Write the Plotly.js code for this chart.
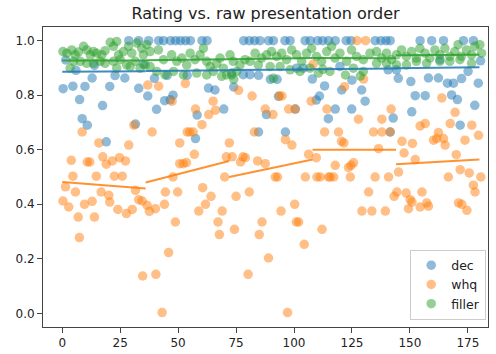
<!DOCTYPE html>
<html>
<head>
<meta charset="utf-8">
<script src="https://cdn.plot.ly/plotly-3.0.1.min.js"></script>
<style>
  html, body { margin: 0; padding: 0; background: #fff; }
  #chart { width: 496px; height: 354px; }
</style>
</head>
<body>
<div id="chart"></div>
<script>
// Ratings by raw presentation order, one series per sentence type
const decX = [0.4,1.5,4.6,5.9,7.5,8.6,9.8,10.8,12.9,13.9,17.4,19.0,20.5,22.8,27.0,28.7,31.6,33.0,33.0,35.0,
  36.9,37.3,39.8,40.7,41.6,43.7,44.2,45.3,46.6,46.7,47.8,48.9,51.0,53.2,53.9,55.3,57.5,58.2,60.3,62.5,63.1,65.9,69.7,
  73.1,74.0,78.1,78.3,80.7,81.0,83.0,84.7,84.7,85.3,88.1,89.0,89.8,91.1,92.7,93.3,96.1,96.3,98.3,100.5,101.1,104.0,104.8,107.0,107.9,
  109.6,110.2,111.0,112.4,113.2,114.8,114.9,117.8,117.8,119.8,120.6,122.5,124.6,124.9,125.0,129.2,130.7,135.0,137.5,139.7,140.6,141.5,141.5,142.8,
  144.2,145.0,150.4,150.8,152.3,154.4,156.6,158.0,159.4,162.3,163.0,164.5,166.2,168.0,168.8,170.5,171.7,172.3,173.1,175.1,177.4,178.0,179.5,180.5];
const decY = [0.824,0.929,0.833,0.891,0.784,0.714,0.832,0.690,0.863,0.909,0.762,0.629,0.832,0.872,0.863,1.0,0.694,0.825,1.0,0.914,
  0.797,1.0,0.862,0.748,1.0,1.0,0.780,0.873,0.783,1.0,0.800,1.0,1.0,1.0,0.873,1.0,0.641,0.727,1.0,1.0,0.826,0.819,0.749,
  0.881,0.830,0.875,1.0,1.0,0.875,1.0,0.873,0.665,1.0,0.729,1.0,0.858,1.0,0.858,0.796,1.0,0.665,1.0,0.749,0.899,0.899,1.0,1.0,0.859,
  0.782,1.0,0.797,1.0,0.834,0.714,1.0,1.0,0.749,0.905,0.819,1.0,1.0,0.749,0.855,0.819,0.778,1.0,1.0,1.0,0.893,1.0,0.665,0.716,
  0.893,0.862,0.850,0.739,0.798,1.0,0.798,0.863,1.0,0.863,0.930,1.0,0.844,0.801,0.844,0.784,0.690,0.861,1.0,0.887,1.0,0.763,0.844,0.926];

const whqX = [0.3,1.4,2.8,3.9,4.6,5.7,6.9,7.4,8.6,9.6,10.8,11.9,12.9,13.9,14.7,15.8,16.8,17.5,19.0,20.1,20.5,21.6,22.5,24.0,24.7,25.9,27.3,27.7,28.7,30.2,30.9,31.6,33.0,34.5,34.7,
  36.6,36.9,37.6,38.8,40.2,40.4,41.6,43.1,44.1,44.5,45.9,47.4,47.8,48.8,49.8,50.7,50.7,52.2,53.1,53.6,53.9,55.0,56.5,57.0,57.5,58.9,60.3,60.6,61.8,63.2,64.2,65.1,66.1,67.2,67.8,69.0,70.1,70.8,
  72.1,73.3,74.3,75.0,76.1,76.9,78.0,79.0,80.2,80.7,81.9,82.9,84.3,85.0,86.2,87.6,87.6,89.0,90.9,91.9,92.9,93.7,94.4,94.8,96.3,97.2,97.7,99.1,100.3,100.6,101.0,102.0,104.4,104.9,106.3,107.4,
  108.2,109.6,109.9,111.3,112.1,113.2,114.2,114.9,115.6,117.1,117.8,119.2,120.5,121.5,121.8,123.5,124.3,124.6,125.7,127.2,127.8,129.3,130.0,130.9,132.2,133.6,134.3,135.0,136.5,137.9,137.9,139.4,140.8,141.5,141.9,143.2,
  144.4,145.1,146.6,147.5,148.4,149.4,150.1,150.9,151.1,152.3,154.4,154.4,155.2,156.6,157.3,158.0,160.2,161.6,162.3,163.8,164.5,165.2,166.6,167.4,169.5,170.0,171.0,171.7,172.4,173.8,174.6,175.6,176.7,177.4,178.1,179.6,180.6];
const whqY = [0.412,0.464,0.390,0.561,0.503,0.445,0.353,0.278,0.665,0.400,0.555,0.555,0.411,0.353,0.503,0.625,0.445,0.574,0.547,0.433,0.408,0.559,0.503,0.381,0.571,0.503,0.559,0.366,0.617,0.381,0.690,0.451,0.417,0.412,0.137,
  0.396,0.837,0.374,0.665,0.384,0.143,0.833,0.003,0.400,0.445,0.223,0.778,0.500,0.335,0.445,0.625,0.549,0.549,0.843,0.553,0.665,0.665,0.665,0.583,0.749,0.375,0.692,0.461,0.400,0.729,0.429,0.778,0.745,0.335,0.289,0.375,0.500,0.574,
  0.625,0.574,0.308,0.429,0.818,0.555,0.574,0.571,0.143,0.445,0.797,0.665,0.559,0.289,0.335,0.749,0.549,0.203,0.729,0.500,0.500,0.797,0.375,0.797,0.637,0.003,0.749,0.617,0.400,0.749,0.335,0.335,0.253,0.500,0.583,0.778,
  0.913,0.571,0.500,0.500,0.308,0.665,0.749,0.500,0.500,0.500,0.543,0.665,0.631,0.625,0.831,0.535,0.500,0.543,0.552,1.0,0.712,0.375,0.859,1.0,0.445,0.375,0.665,0.500,0.604,0.665,0.712,0.375,0.500,0.665,0.749,0.429,
  0.445,0.518,0.631,0.588,0.441,0.384,0.417,0.408,0.623,0.564,0.687,0.390,0.445,0.696,0.405,0.393,0.635,0.641,0.663,0.790,0.641,0.617,0.500,0.696,0.737,0.582,0.405,0.527,0.400,0.635,0.378,0.515,0.690,0.470,0.445,0.653,0.500];

const fillerX = [0.3,2.0,4.1,5.6,7.0,9.2,10.6,12.1,13.5,14.9,17.1,18.5,20.7,22.1,23.5,24.3,26.4,28.6,30.0,32.2,34.3,35.0,4.9,7.8,10.6,13.5,16.4,18.5,22.1,25.0,27.8,31.5,35.8,3.4,23.5,29.3,33.6,
  36.5,37.9,37.9,41.5,43.7,47.2,49.4,51.6,53.7,55.2,57.3,59.5,60.9,62.3,63.8,65.2,66.6,68.1,69.5,70.9,40.8,44.4,48.0,52.3,58.0,62.3,68.8,
  72.4,73.8,75.3,76.7,78.9,81.0,83.2,84.6,86.0,73.1,74.0,88.2,90.3,92.5,94.7,96.8,99.0,101.1,103.3,105.4,107.6,89.7,94.0,98.3,102.6,106.9,91.1,
  109.7,111.9,114.1,116.2,117.7,119.8,122.7,124.8,127.0,129.9,132.8,110.5,115.5,122.2,125.6,129.9,135.6,137.8,139.9,142.1,135.6,139.9,112.5,128.6,
  144.2,146.4,148.5,150.7,152.8,154.3,156.5,158.6,160.8,162.9,165.1,167.2,169.4,170.8,172.2,174.4,176.6,178.0,180.2,180.9,144.2,148.5,152.8,157.2,162.9,167.2,171.6,176.6];
const fillerY = [0.960,0.954,0.966,0.948,0.958,0.979,0.966,0.948,0.960,0.954,0.948,0.963,0.994,0.979,0.997,0.948,0.960,0.979,0.954,0.991,0.972,0.948,0.924,0.924,0.917,0.917,0.924,0.917,0.924,0.930,0.911,0.924,0.911,0.899,0.899,0.905,0.899,
  0.985,0.960,0.905,0.966,0.930,0.948,0.924,0.936,0.911,0.954,0.930,0.948,0.972,0.924,0.905,0.887,0.917,0.936,0.899,0.874,0.887,0.874,0.887,0.874,0.881,0.874,0.869,
  0.948,0.924,0.887,0.911,0.930,0.924,0.954,0.911,0.936,0.874,0.858,0.948,0.960,0.942,0.954,0.930,0.966,0.948,0.924,0.954,0.972,0.905,0.905,0.893,0.887,0.899,0.862,
  0.942,0.924,0.960,0.979,0.936,0.954,0.924,0.966,0.942,0.930,0.954,0.881,0.887,0.874,0.899,0.887,0.960,0.936,0.954,0.930,0.917,0.917,0.895,0.870,
  0.948,0.966,0.942,0.960,0.936,0.972,0.954,0.936,0.966,0.948,0.972,0.942,0.960,0.985,0.942,0.966,0.948,0.979,0.985,0.954,0.911,0.911,0.924,0.917,0.924,0.924,0.930,0.917];

// Per-block linear fits: block boundaries and fitted values at each end
const blockStart = [0, 36, 72, 108, 144];
const blockEnd = [36, 72, 108, 144, 180];
const decFitStart = [0.886, 0.889, 0.892, 0.895, 0.899];
const decFitEnd = [0.888, 0.891, 0.894, 0.898, 0.902];
const whqFitStart = [0.482, 0.480, 0.500, 0.600, 0.547];
const whqFitEnd = [0.458, 0.559, 0.564, 0.600, 0.564];
const fillerFitStart = [0.927, 0.928, 0.932, 0.936, 0.946];
const fillerFitEnd = [0.927, 0.932, 0.936, 0.935, 0.948];

const seriesNames = ['dec', 'whq', 'filler'];
const colors = ['#1f77b4', '#ff7f0e', '#2ca02c'];

function scatter(name, xs, ys, color) {
  return {
    type: 'scatter', mode: 'markers', name: name, x: xs, y: ys,
    marker: { color: color, size: 9.5, opacity: 0.5, line: { width: 0 } },
    cliponaxis: false
  };
}

function fitLines(starts, ends, color) {
  const xs = [], ys = [];
  for (let i = 0; i < blockStart.length; i++) {
    xs.push(blockStart[i], blockEnd[i], null);
    ys.push(starts[i], ends[i], null);
  }
  return {
    type: 'scatter', mode: 'lines', x: xs, y: ys, showlegend: false,
    line: { color: color, width: 2 }, opacity: 0.85, hoverinfo: 'skip'
  };
}

const traces = [
  scatter(seriesNames[0], decX, decY, colors[0]),
  scatter(seriesNames[1], whqX, whqY, colors[1]),
  scatter(seriesNames[2], fillerX, fillerY, colors[2]),
  fitLines(decFitStart, decFitEnd, colors[0]),
  fitLines(whqFitStart, whqFitEnd, colors[1]),
  fitLines(fillerFitStart, fillerFitEnd, colors[2])
];

const axisCommon = {
  showline: true, mirror: true, linecolor: '#444', linewidth: 1,
  ticks: 'outside', ticklen: 5, tickwidth: 1, tickcolor: '#444',
  showgrid: false, zeroline: false,
  tickfont: { family: 'DejaVu Sans', size: 12, color: '#222' }
};

const layout = {
  width: 496, height: 354,
  margin: { l: 43, r: 8, t: 27, b: 27 },
  paper_bgcolor: '#fff', plot_bgcolor: '#fff',
  title: {
    text: 'Rating vs. raw presentation order',
    font: { family: 'DejaVu Sans', size: 16, color: '#222' },
    x: 0.5, xref: 'paper', xanchor: 'center', y: 0.962, yanchor: 'middle'
  },
  xaxis: Object.assign({}, axisCommon, {
    range: [-8.3, 183.7], tickvals: [0, 25, 50, 75, 100, 125, 150, 175]
  }),
  yaxis: Object.assign({}, axisCommon, {
    range: [-0.05, 1.05], tickvals: [0, 0.2, 0.4, 0.6, 0.8, 1.0], tickformat: '.1f'
  }),
  showlegend: true,
  legend: {
    x: 0.996, y: 0.025, xanchor: 'right', yanchor: 'bottom',
    bgcolor: 'rgba(255,255,255,0.8)', bordercolor: '#ccc', borderwidth: 1,
    font: { family: 'DejaVu Sans', size: 12.5, color: '#222' }
  }
};

Plotly.newPlot('chart', traces, layout, { displayModeBar: false, staticPlot: true });
</script>
</body>
</html>
